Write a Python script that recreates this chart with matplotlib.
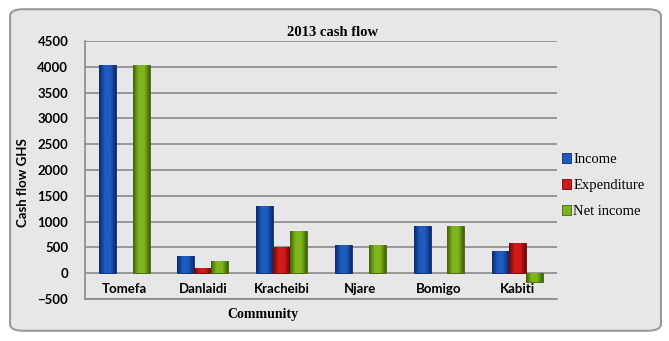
import numpy as np
import matplotlib.pyplot as plt
from matplotlib.patches import FancyBboxPatch, Patch
from matplotlib.colors import LinearSegmentedColormap
import matplotlib.transforms as mtransforms

communities = ['Tomefa', 'Danlaidi', 'Kracheibi', 'Njare', 'Bomigo', 'Kabiti']
income = [4040, 330, 1310, 550, 910, 430]
expenditure = [0, 100, 500, 0, 0, 590]
net_income = [4040, 230, 810, 550, 910, -160]

series = [('Income', income, '#1f5bbf', '#0a2a6e'),
          ('Expenditure', expenditure, '#d11a1a', '#6e0606'),
          ('Net income', net_income, '#7fb51c', '#3f6208')]

fig = plt.figure(figsize=(6.69, 3.41), dpi=100)
fig.patch.set_facecolor('white')

# outer chart frame
frame = FancyBboxPatch((0.015, 0.03), 0.973, 0.943,
                       boxstyle='round,pad=0,rounding_size=0.02',
                       transform=fig.transFigure, facecolor='#e7e7e7',
                       edgecolor='#9a9a9a', linewidth=1.5, zorder=-1)
fig.patches.append(frame)

ax = fig.add_axes([0.127, 0.123, 0.7056, 0.7566])
ax.set_zorder(2)
ax.set_facecolor('none')

x = np.arange(len(communities))
w = 0.216
handles = []
for i, (name, vals, col, dark) in enumerate(series):
    bars = ax.bar(x + (i - 1) * w, vals, width=w, color=col, edgecolor=dark,
                  linewidth=0.6, zorder=3)
    handles.append(Patch(facecolor=col, edgecolor=dark, linewidth=0.6, label=name))
    cmap = LinearSegmentedColormap.from_list(name, [dark, col, col, dark])
    grad = np.linspace(0, 1, 64).reshape(1, -1)
    for b in bars:
        if b.get_height() == 0:
            b.set_visible(False)
            continue
        x0, y0 = b.get_x(), b.get_y()
        im = ax.imshow(grad, cmap=cmap, aspect='auto', zorder=3.5,
                       extent=(x0, x0 + b.get_width(), y0, y0 + b.get_height()))
        im.set_clip_path(b)

ax.set_xlim(-0.5, len(communities) - 0.5)
ax.set_ylim(-500, 4500)
ax.set_yticks(np.arange(-500, 4501, 500))
ax.yaxis.grid(True, color='#8a8a8a', linewidth=1.2, zorder=1)
ax.set_axisbelow(True)
for s in ['top', 'right']:
    ax.spines[s].set_visible(False)
ax.spines['left'].set_color('#8a8a8a')
ax.spines['bottom'].set_color('#8a8a8a')
ax.spines['left'].set_linewidth(1.2)
ax.spines['bottom'].set_linewidth(1.2)
ax.tick_params(axis='y', length=0, pad=12, labelsize=9.5)
for t in ax.get_yticklabels():
    t.set_fontfamily('Lato')
    t.set_fontweight('bold')
ax.set_xticks([])

# category labels sit just under the zero line, as in the original
trans = mtransforms.blended_transform_factory(ax.transData, ax.transData)
for xi, name in zip(x, communities):
    ax.annotate(name, (xi, 0), xycoords=trans, xytext=(0, -7),
                textcoords='offset points', ha='center', va='top',
                fontsize=9.5, family='Lato', fontweight='bold')

ax.set_ylabel('Cash flow GHS', fontsize=9.5, family='Lato', fontweight='bold')
ax.yaxis.set_label_coords(-0.118, 0.453)
ax.set_xlabel('Community', fontsize=10, family='Liberation Serif',
              fontweight='bold')
ax.xaxis.set_label_coords(0.377, -0.035)
fig.text(0.497, 0.905, '2013 cash flow', ha='center', va='center',
         fontsize=10.5, family='Liberation Serif', fontweight='bold')

leg = fig.legend(handles=handles, loc='center left',
                 bbox_to_anchor=(0.82, 0.455), frameon=False,
                 prop={'family': 'Liberation Serif', 'size': 10.5},
                 handlelength=0.65, handleheight=0.65, handletextpad=0.15,
                 labelspacing=0.9)

fig.savefig('out.png', dpi=100)
